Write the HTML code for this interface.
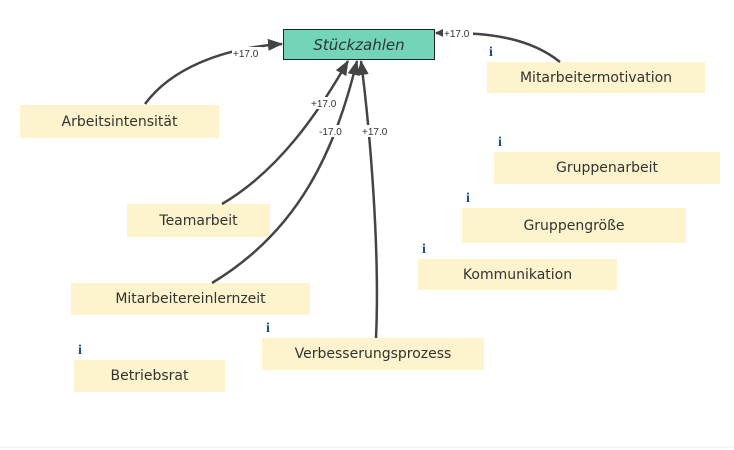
<!DOCTYPE html>
<html><head><meta charset="utf-8"><style>
body{margin:0;width:734px;height:450px;background:#fff;position:relative;overflow:hidden;font-family:"DejaVu Sans","Liberation Sans",sans-serif}
.n{position:absolute;background:#fdf3cc;color:#333;font-size:14px;display:flex;align-items:center;justify-content:center}
.i{position:absolute;color:#1a4f8a;font-weight:bold;font-family:"Liberation Serif",serif;font-size:14px}
svg{position:absolute;left:0;top:0}
</style></head><body>
<div class="n" style="left:20px;top:105px;width:199px;height:33px">Arbeitsintensität</div>
<div class="n" style="left:487px;top:62px;width:218px;height:31px">Mitarbeitermotivation</div>
<div class="n" style="left:494px;top:152px;width:226px;height:32px">Gruppenarbeit</div>
<div class="n" style="left:462px;top:208px;width:224px;height:35px">Gruppengröße</div>
<div class="n" style="left:418px;top:259px;width:199px;height:31px">Kommunikation</div>
<div class="n" style="left:127px;top:204px;width:143px;height:33px">Teamarbeit</div>
<div class="n" style="left:71px;top:283px;width:239px;height:32px">Mitarbeitereinlernzeit</div>
<div class="n" style="left:74px;top:360px;width:151px;height:32px">Betriebsrat</div>
<div class="n" style="left:262px;top:338px;width:222px;height:32px">Verbesserungsprozess</div>
<div class="i" style="left:489px;top:45px">i</div>
<div class="i" style="left:498px;top:135px">i</div>
<div class="i" style="left:466px;top:191px">i</div>
<div class="i" style="left:422px;top:242px">i</div>
<div class="i" style="left:266px;top:321px">i</div>
<div class="i" style="left:78px;top:343px">i</div>
<div style="position:absolute;left:283px;top:29px;width:150px;height:29px;background:#72d5b8;border:1px solid #222;display:flex;align-items:center;justify-content:center;font-style:italic;font-size:15px;color:#333">Stückzahlen</div>
<svg width="734" height="450">
<defs><marker id="a" markerWidth="16" markerHeight="12" refX="14" refY="6" orient="auto" markerUnits="userSpaceOnUse"><path d="M0,0L15,6L0,12z" fill="#444"/></marker>
<marker id="b" markerWidth="8" markerHeight="8" refX="7" refY="4" orient="auto" markerUnits="userSpaceOnUse"><path d="M0,0L8,4L0,8z" fill="#444"/></marker></defs>
<g fill="none" stroke="#444" stroke-width="2.5">
<path d="M145,104 C170,70 220,48 282,44" marker-end="url(#a)"/>
<path d="M560,62 C530,38 490,32 436,33" marker-end="url(#b)"/>
<path d="M222,204 C280,170 320,110 348,61" marker-end="url(#a)"/>
<path d="M212,283 C300,230 335,150 357,61" marker-end="url(#a)"/>
<path d="M376,338 C380,250 370,130 361,61" marker-end="url(#a)"/>
</g>
<g font-size="10" fill="#333" font-family="Liberation Sans,sans-serif">
<rect x="232" y="47" width="30" height="12" fill="#fff"/><text x="233" y="57">+17.0</text>
<rect x="443" y="27" width="30" height="12" fill="#fff"/><text x="444" y="37">+17.0</text>
<rect x="310" y="97" width="30" height="12" fill="#fff"/><text x="311" y="107">+17.0</text>
<rect x="318" y="125" width="28" height="12" fill="#fff"/><text x="319" y="135">-17.0</text>
<rect x="361" y="125" width="30" height="12" fill="#fff"/><text x="362" y="135">+17.0</text>
</g>
<line x1="0" y1="447" x2="734" y2="447" stroke="#eee"/>
</svg>
</body></html>
